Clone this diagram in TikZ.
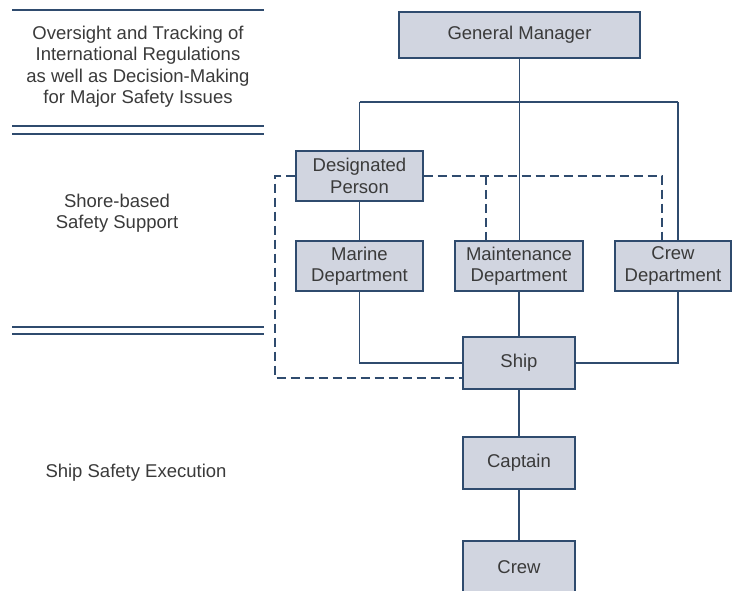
\documentclass[tikz,border=0pt]{standalone}
\usepackage{fontspec}
\setmainfont{Liberation Sans}
\usepackage{tikz}
\usetikzlibrary{positioning, calc}
\definecolor{boxfill}{HTML}{D1D5E0}
\definecolor{linecol}{HTML}{2F4B6E}
\definecolor{textcol}{HTML}{3A3A3A}
\tikzstyle{org-box} = [rectangle, draw=linecol, fill=boxfill, line width=1.3pt, minimum width=127pt, minimum height=50pt, align=center, text=textcol, inner sep=0pt, font=\fontsize{18.5}{21.5}\selectfont]
\tikzstyle{level-text} = [align=center, text=textcol, inner sep=0pt, font=\fontsize{18.5}{21.5}\selectfont]
\tikzstyle{link} = [draw=linecol, line width=1.3pt]
\tikzstyle{dash-link} = [draw=linecol, line width=1.3pt, dash pattern=on 9pt off 5pt]
\tikzstyle{rule} = [draw=linecol, line width=1.2pt]

\begin{document}
\begin{tikzpicture}[x=1pt, y=-1pt]
\useasboundingbox (0,0) rectangle (732,591);

% Level labels on the left
\node (oversight) [level-text] at (138,66.5) {Oversight and Tracking of\\International Regulations\\as well as Decision-Making\\for Major Safety Issues};
\node (shore) [level-text] at (117,213) {Shore-based\\ Safety Support};
\node (execution) [level-text] at (136,473) {Ship Safety Execution};

\coordinate (rule-a) at (12,10);
\coordinate (rule-b) at (12,126);
\coordinate (rule-c) at (12,134);
\coordinate (rule-d) at (12,327);
\coordinate (rule-e) at (12,334);
\foreach \r in {rule-a, rule-b, rule-c, rule-d, rule-e}
    \draw [rule] (\r) -- ++(252,0);

% Organisation
\node (gm) [org-box, minimum width=241pt, minimum height=46pt] at (519.5,35) {General Manager};
\node (dp) [org-box] at (359.5,176) {Designated\\Person};
\node (marine) [org-box] at (359.5,266) {Marine\\Department};
\node (maint) [org-box, minimum width=128pt] at (519,266) {Maintenance\\Department};
\node (crewdept) [org-box, minimum width=116pt] at (673,266) {Crew\\Department};
\node (ship) [org-box, minimum width=112pt, minimum height=52pt] at (519,363) {Ship};
\node (captain) [org-box, minimum width=112pt, minimum height=52pt] at (519,463) {Captain};
\node (crew) [org-box, minimum width=112pt, minimum height=52pt] at (519,567) {Crew};

\coordinate (bus-l) at (359.5,102);
\coordinate (bus-r) at (678,102);

\draw [link] (bus-l) -- (bus-r);
\draw [link] (gm.south) -- (gm.south |- maint.north);
\draw [link] (bus-l) -- (dp.north);
\draw [link] (bus-r) -- (bus-r |- crewdept.north);
\draw [link] (dp.south) -- (marine.north);
\draw [link] (marine.south) |- (ship.west);
\draw [link] (maint.south) -- (ship.north);
\draw [link] (bus-r |- crewdept.south) |- (ship.east);
\draw [link] (ship.south) -- (captain.north);
\draw [link] (captain.south) -- (crew.north);

% Dashed lines from the designated person
\coordinate (dash-l) at (275,378);
\coordinate (dash-m) at (486,176);
\coordinate (dash-r) at (662,176);

\draw [dash-link] (dp.west) -| (dash-l) -- (dash-l -| ship.west);
\draw [dash-link] (dp.east) -- (dash-r) -- (dash-r |- crewdept.north);
\draw [dash-link] (dash-m) -- (dash-m |- maint.north);

\end{tikzpicture}
\end{document}
